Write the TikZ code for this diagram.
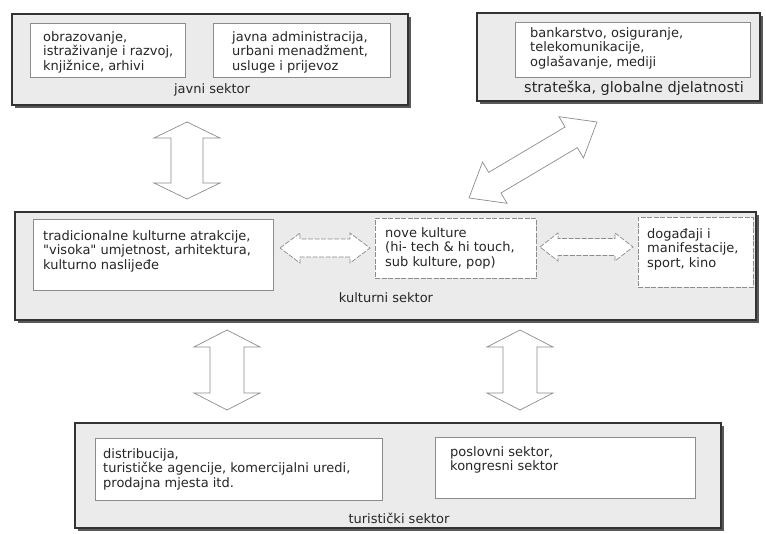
\documentclass[tikz,border=0pt]{standalone}
\usepackage{fontspec}
\setmainfont{DejaVu Sans}[Ligatures=TeXOff]
\usetikzlibrary{calc,shadows}
\newcommand\blockarrow[6]{%
  \coordinate (#1h) at ($(#1)!#5!(#2)$);
  \coordinate (#2h) at ($(#2)!#5!(#1)$);
  \path[#6] (#1) -- ($(#1h)!#3!90:(#2)$) -- ($(#1h)!#4!90:(#2)$)
    -- ($(#2h)!#4!-90:(#1)$) -- ($(#2h)!#3!-90:(#1)$) -- (#2)
    -- ($(#2h)!#3!90:(#1)$) -- ($(#2h)!#4!90:(#1)$)
    -- ($(#1h)!#4!-90:(#2)$) -- ($(#1h)!#3!-90:(#2)$) -- cycle;
}
\tikzset{
  outer/.style={draw=black!80, line width=1.4pt, fill=black!8,
    drop shadow={shadow xshift=3pt, shadow yshift=-3pt, fill=black!65, opacity=1},
    inner sep=0pt},
  inbox/.style={draw=black!45, line width=0.8pt, fill=white, inner sep=0pt},
  dashbox/.style={inbox, dash pattern=on 5pt off 1.5pt},
  txt/.style={font=\fontsize{13}{14.5}\selectfont, text=black!85, align=left,
    inner sep=0pt, anchor=north west},
  lbl/.style={font=\fontsize{13}{14.5}\selectfont, text=black!85, inner sep=0pt},
  barrow/.style={draw=black!45, line width=0.7pt, fill=white, line join=miter},
  darrow/.style={barrow, dash pattern=on 5pt off 1.5pt},
}
\begin{document}
\begin{tikzpicture}[x=1pt,y=-1pt]
\fill[white] (0,0) rectangle (766,533);
\useasboundingbox (0,0) rectangle (766,533);

% outer sector boxes
\node[outer, minimum width=396pt, minimum height=91pt] (javni) at (210,59.5) {};
\node[outer, minimum width=283pt, minimum height=88pt] (strat) at (618.5,57) {};
\node[outer, minimum width=741pt, minimum height=108pt] (kult) at (385.5,266) {};
\node[outer, minimum width=646pt, minimum height=105pt] (turi) at (398,475.5) {};

% inner boxes
\node[inbox, minimum width=155pt, minimum height=54pt] (jav1) at (107.5,50) {};
\node[inbox, minimum width=177pt, minimum height=54pt] (jav2) at (301.5,50) {};
\node[inbox, minimum width=235pt, minimum height=55pt] (str1) at (632.5,49.5) {};
\node[inbox, minimum width=240pt, minimum height=71pt] (kul1) at (153,254.5) {};
\node[dashbox, minimum width=161pt, minimum height=60pt] (kul2) at (455.5,248) {};
\node[dashbox, minimum width=115pt, minimum height=70pt] (kul3) at (695.5,252) {};
\node[inbox, minimum width=287pt, minimum height=62pt] (tur1) at (238.5,469) {};
\node[inbox, minimum width=260pt, minimum height=61pt] (tur2) at (565,467.5) {};

% texts
\node[txt] (jav1t) at (43,31) {obrazovanje,\\istraživanje i razvoj,\\knjižnice, arhivi};
\node[txt] (jav2t) at (232,31) {javna administracija,\\urbani menadžment,\\usluge i prijevoz};
\node[txt] (str1t) at (530,27) {bankarstvo, osiguranje,\\telekomunikacije,\\oglašavanje, mediji};
\node[txt] (kul1t) at (43,230) {tradicionalne kulturne atrakcije,\\"visoka" umjetnost, arhitektura,\\kulturno naslijeđe};
\node[txt] (kul2t) at (385,227) {nove kulture\\(hi- tech \& hi touch,\\sub kulture, pop)};
\node[txt] (kul3t) at (647,228) {događaji i\\manifestacije,\\sport, kino};
\node[txt] (tur1t) at (103,448) {distribucija,\\turističke agencije, komercijalni uredi,\\prodajna mjesta itd.};
\node[txt] (tur2t) at (450,446) {poslovni sektor,\\kongresni sektor};

% sector labels
\node[lbl] (javnil) at (212,90) {javni sektor};
\node[lbl, font=\fontsize{14.5}{16}\selectfont] (stratl) at (634,88) {strateška, globalne djelatnosti};
\node[lbl] (kultl) at (386,298) {kulturni sektor};
\node[lbl] (turil) at (399,518) {turistički sektor};

% arrow end points
\coordinate (a1s) at (187,199); \coordinate (a1e) at (187,122);
\coordinate (a2s) at (469,198); \coordinate (a2e) at (597,122);
\coordinate (a3s) at (280,248); \coordinate (a3e) at (370,248);
\coordinate (a4s) at (540,247); \coordinate (a4e) at (633,247);
\coordinate (a5s) at (227,330); \coordinate (a5e) at (227,410);
\coordinate (a6s) at (520,330); \coordinate (a6e) at (520,410);

\blockarrow{a1s}{a1e}{33pt}{16pt}{16pt}{barrow}
\blockarrow{a2s}{a2e}{24pt}{12pt}{30pt}{barrow}
\blockarrow{a3s}{a3e}{15pt}{9pt}{20pt}{darrow}
\blockarrow{a4s}{a4e}{14pt}{8.5pt}{18pt}{darrow}
\blockarrow{a5s}{a5e}{33pt}{17pt}{17pt}{barrow}
\blockarrow{a6s}{a6e}{33pt}{17pt}{17pt}{barrow}
\end{tikzpicture}
\end{document}
